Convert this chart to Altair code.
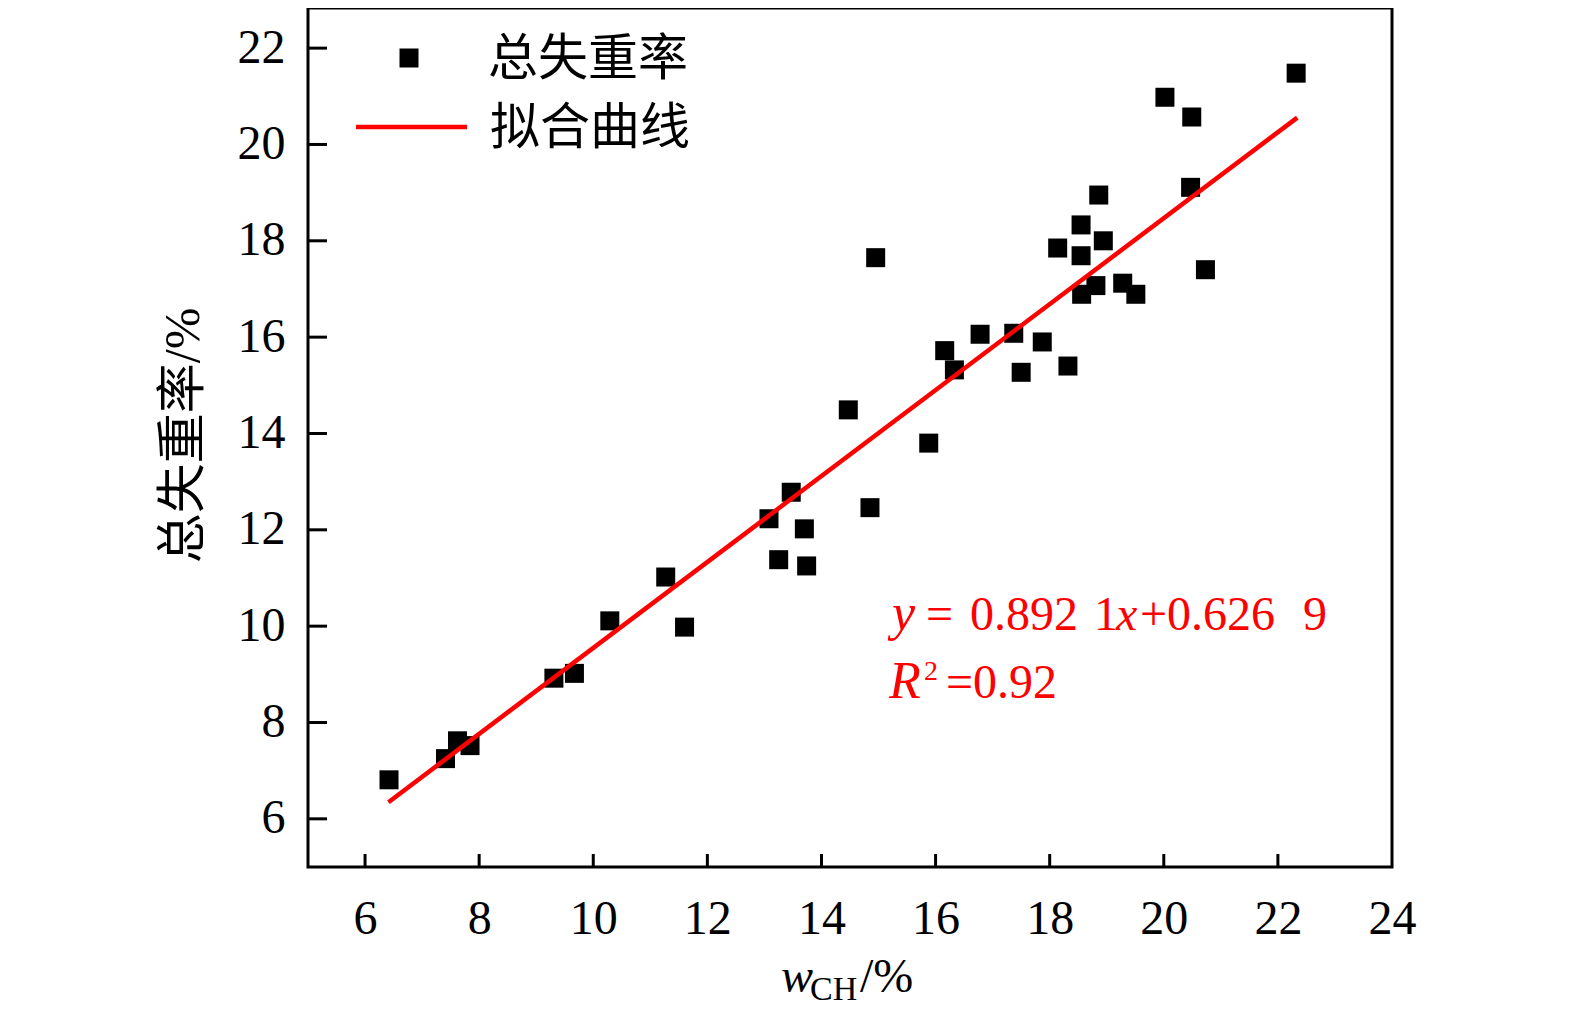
import altair as alt
import pandas as pd

# points: w_CH (%) vs total mass loss (%)
w_ch = [6.42, 7.41, 7.62, 7.84, 9.31, 9.67, 10.29, 11.27, 11.60,
        13.08, 13.25, 13.47, 13.70, 13.74, 14.47, 14.85, 14.95, 15.88,
        16.16, 16.33, 16.78, 17.37, 17.50, 17.87, 18.14, 18.32, 18.55,
        18.55, 18.56, 18.81, 18.86, 18.94, 19.28, 19.51, 20.02, 20.47,
        20.49, 20.73, 22.32]
loss = [6.81, 7.25, 7.62, 7.52, 8.92, 9.02, 10.11, 11.02, 9.98,
        12.23, 11.38, 12.78, 12.02, 11.25, 14.49, 12.46, 17.65, 13.80,
        15.72, 15.32, 16.06, 16.08, 15.27, 15.90, 17.85, 15.40, 18.33,
        17.69, 16.89, 17.07, 18.95, 18.00, 17.12, 16.89, 20.98, 19.11,
        20.57, 17.40, 21.48]

# ends of the fitted line y = 0.8921x + 0.6269
fit_x = [6.41, 22.34]
fit_y = [6.345, 20.557]

x_ticks = [6, 8, 10, 12, 14, 16, 18, 20, 22, 24]
y_ticks = [6, 8, 10, 12, 14, 16, 18, 20, 22]

SERIF = "Liberation Serif, Noto Sans CJK SC"
CJK = "Noto Sans CJK SC"
RED = "#ff0000"
W, H = 1084, 859

xs = alt.Scale(domain=[5, 24], nice=False, zero=False)
ys = alt.Scale(domain=[5, 22.833], nice=False, zero=False)

x_axis = alt.Axis(
    values=x_ticks, title=None, labelFont=SERIF, labelFontSize=48,
    labelColor="black", labelPadding=28, labelFlush=False,
    labelOverlap=False)
y_axis = alt.Axis(
    values=y_ticks, title="总失重率/%", labelFont=SERIF, labelFontSize=48,
    labelColor="black", labelPadding=23, labelFlush=False,
    labelOverlap=False, titleFont=SERIF, titleFontSize=50,
    titleFontWeight="normal", titleColor="black", titleAngle=270,
    titleAlign="center", titleBaseline="middle", titleX=-125, titleY=427)

pts = pd.DataFrame({"w": w_ch, "loss": loss})
fit = pd.DataFrame({"fx": fit_x, "fy": fit_y})

points = alt.Chart(pts).mark_square(size=361, color="black", opacity=1).encode(
    x=alt.X("w:Q", scale=xs, axis=x_axis),
    y=alt.Y("loss:Q", scale=ys, axis=y_axis),
)

line = alt.Chart(fit).mark_line(color=RED, strokeWidth=4.5).encode(
    x=alt.X("fx:Q", scale=xs, axis=x_axis),
    y=alt.Y("fy:Q", scale=ys, axis=y_axis),
)

# inward tick marks
xt = alt.Chart(pd.DataFrame({"v": x_ticks[:-1]})).mark_rule(
    color="black", strokeWidth=3).encode(
    x=alt.X("v:Q", scale=xs, axis=x_axis),
    y=alt.value(H), y2=alt.value(H - 13))
yt = alt.Chart(pd.DataFrame({"v": y_ticks})).mark_rule(
    color="black", strokeWidth=3).encode(
    y=alt.Y("v:Q", scale=ys, axis=y_axis),
    x=alt.value(0), x2=alt.value(19))


def note(text, x, y, size=48, italic=False, color="black", font=SERIF,
         baseline="alphabetic"):
    return alt.Chart(pd.DataFrame({"t": [text]})).mark_text(
        text=text, align="left", baseline=baseline, font=font,
        fontSize=size, fontStyle="italic" if italic else "normal",
        color=color,
    ).encode(x=alt.value(x), y=alt.value(y))


# legend
leg_sq = alt.Chart(pd.DataFrame({"t": [0]})).mark_square(
    size=361, color="black", opacity=1).encode(
    x=alt.value(101), y=alt.value(50))
leg_ln = alt.Chart(pd.DataFrame({"t": [0]})).mark_rule(
    color=RED, strokeWidth=4.5).encode(
    x=alt.value(48), x2=alt.value(159), y=alt.value(119))
legend = [
    leg_sq, leg_ln,
    note("总失重率", 180, 52, size=50, font=CJK, baseline="middle"),
    note("拟合曲线", 182, 121, size=50, font=CJK, baseline="middle"),
]

# equation
eq = [
    note("y", 584, 622, size=52, italic=True, color=RED),
    note("=", 618, 622, color=RED),
    note("0.892", 662, 622, color=RED),
    note("1", 786, 622, color=RED),
    note("x", 808, 622, italic=True, color=RED),
    note("+0.626", 832, 622, color=RED),
    note("9", 995, 622, color=RED),
    note("R", 581, 690, size=52, italic=True, color=RED),
    note("2", 616, 672, size=28, color=RED),
    note("=0.92", 638, 690, color=RED),
]

# x axis title w_CH/%
xtitle = [
    note("w", 473, 984, size=48, italic=True),
    note("CH", 502, 992, size=34),
    note("/%", 552, 984, size=48),
]

chart = alt.layer(points, line, xt, yt, *legend, *eq, *xtitle).properties(
    width=W, height=H,
    autosize=alt.AutoSizeParams(type="none"),
    padding={"left": 300, "top": 0, "right": 170, "bottom": 144},
).configure_view(
    stroke="black", strokeWidth=3
).configure_axis(
    grid=False, domain=False, ticks=False
)

chart.save("out.html", embed_options={"renderer": "svg", "actions": False})
